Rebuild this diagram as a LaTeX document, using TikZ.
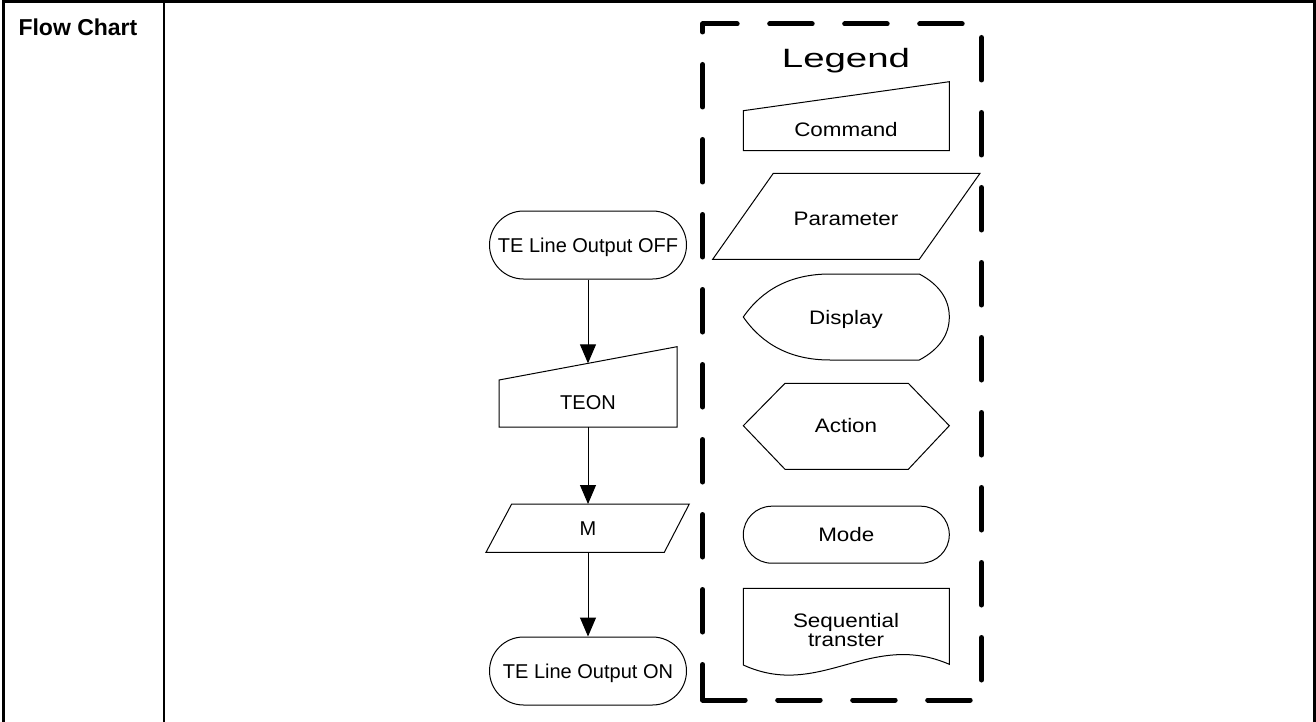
\documentclass[tikz,border=0pt]{standalone}
\usepackage{fontspec}
\setmainfont{Liberation Sans}
\usetikzlibrary{arrows.meta,shapes.misc}
\newcommand{\wider}[2]{\scalebox{#1}[1]{#2}}

\begin{document}
\begin{tikzpicture}[x=1pt,y=-1pt]
\tikzstyle{every node}+=[inner sep=0pt]
\tikzstyle{shapeline}=[black, line width=1pt]
\tikzstyle{frameline}=[black, line width=2.6pt]
\tikzstyle{legendline}=[black, line width=5pt, line cap=round, dash pattern=on 42.5pt off 32.5pt]
\tikzstyle{flowtext}=[font=\fontsize{20}{24}\selectfont, text height=14.3pt, text depth=0pt]
\tikzstyle{keytext}=[font=\fontsize{19.5}{18.4}\selectfont, text height=14pt, text depth=0pt]
\tikzstyle{terminal}=[rounded rectangle, draw, shapeline, minimum width=197pt, minimum height=68pt, flowtext]
\tikzstyle{flowarrow}=[shapeline, -{Triangle[length=19pt,width=16pt]}]
\useasboundingbox (0,0) rectangle (1316,722);
% frame
\draw [frameline] (3.7,722) -- (3.7,1.8) -- (1314.6,1.8) -- (1314.6,722);
\draw [frameline] (164,1.8) -- (164,722);
\node [anchor=base west, font=\bfseries\fontsize{23}{27}\selectfont] (title) at (18.3,36) {Flow Chart};
% flow
\node [terminal] (off) at (588,245) {TE Line Output OFF};
\draw [shapeline] (499,380) -- (677,346.7) -- (677,427) -- (499,427) -- cycle;
\node [flowtext] (teon) at (588,402.7) {TEON};
\draw [shapeline] (511.7,504) -- (689.3,504) -- (664.3,552.3) -- (486,552.3) -- cycle;
\node [flowtext] (m) at (588,528) {M};
\node [terminal] (on) at (588,671) {TE Line Output ON};
\coordinate (teontop) at (588,363.3);
\coordinate (teonbot) at (588,427);
\coordinate (mtop) at (588,504);
\coordinate (mbot) at (588,552.3);
\draw [flowarrow] (off.south) -- (teontop);
\draw [flowarrow] (teonbot) -- (mtop);
\draw [flowarrow] (mbot) -- (on.north);
% legend
\draw [legendline, dash phase=8pt] (702.7,24) -- (981.5,24);
\draw [legendline, dash phase=61.5pt] (981.5,24) -- (981.5,700);
\draw [legendline, dash phase=34.5pt] (702.7,24) -- (702.7,700);
\draw [legendline] (702.7,700) -- (981.5,700);
\node [font=\fontsize{26.5}{30}\selectfont, text height=19pt, text depth=0pt] (legend) at (846,57.8) {\wider{1.45}{Legend}};
\draw [shapeline] (743.3,110.7) -- (949.3,81.7) -- (949.3,150.7) -- (743.3,150.7) -- cycle;
\node [keytext] (command) at (846,129.3) {\wider{1.15}{Command}};
\draw [shapeline] (773.3,173.3) -- (980,173.3) -- (919.3,259.3) -- (712.7,259.3) -- cycle;
\node [keytext] (parameter) at (846,218.3) {\wider{1.15}{Parameter}};
\draw [shapeline] (743.3,317) .. controls (762,290) and (790,274) .. (830,274) -- (919.3,274)
  .. controls (940,285) and (949.3,300) .. (949.3,317)
  .. controls (949.3,334) and (940,349) .. (919.3,360) -- (830,360)
  .. controls (790,360) and (762,344) .. (743.3,317) -- cycle;
\node [keytext] (display) at (846,317.3) {\wider{1.15}{Display}};
\draw [shapeline] (743.3,425.7) -- (785,383.3) -- (908.3,383.3) -- (949.3,425.7) -- (908.3,469.3) -- (785,469.3) -- cycle;
\node [keytext] (action) at (846,425.7) {\wider{1.15}{Action}};
\node [rounded rectangle, draw, shapeline, minimum width=206pt, minimum height=57pt, keytext] (mode) at (846.3,534.7) {\wider{1.15}{Mode}};
\draw [shapeline] (743.3,588.3) -- (949.3,588.3) -- (949.3,664.3)
  .. controls (870,630) and (820,700) .. (743.3,665) -- cycle;
\node [font=\fontsize{19.5}{18.4}\selectfont, align=center] (seq) at (846,630) {\wider{1.15}{Sequential}\\\wider{1.15}{transter}};
\end{tikzpicture}
\end{document}
